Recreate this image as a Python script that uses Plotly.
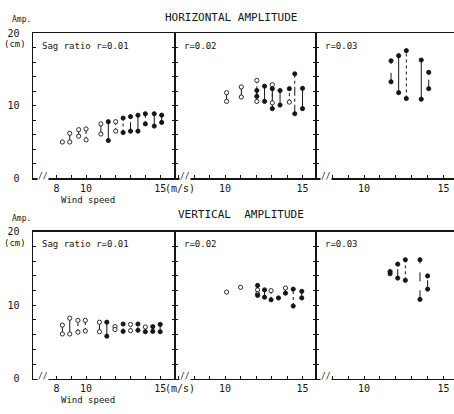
import plotly.graph_objects as go

W, H = 454, 414
FONT = "DejaVu Sans Mono"
INK = "#151515"

# ---------------- data (wind speed m/s, amplitude cm) ----------------
# Horizontal amplitude, sag ratio r=0.01
H1_WS = [8.4, 8.9, 9.5, 10.0, 11.0, 11.5, 12.0, 12.5, 13.0, 13.5, 14.0, 14.6, 15.1]
H1_HI = [5.0, 6.2, 6.7, 6.8, 7.5, 7.8, 7.8, 8.3, 8.5, 8.7, 8.9, 8.9, 8.7]
H1_LO = [5.0, 5.0, 5.8, 5.3, 6.1, 5.2, 6.5, 6.3, 6.5, 6.5, 7.5, 7.2, 7.7]
H1_FHI = [0, 0, 0, 0, 0, 1, 0, 1, 1, 1, 1, 1, 1]
H1_FLO = [0, 0, 0, 0, 0, 1, 0, 1, 1, 1, 1, 1, 1]
H1_LS = ["solid", "solid", "solid", "dot", "solid", "solid", "dot", "dot", "dash",
         "solid", "dot", "solid", "solid"]

# Horizontal amplitude, r=0.02
H2_WS = [10.1, 11.05, 12.05, 12.05, 12.55, 13.05, 13.05, 13.55, 14.15, 14.5, 15.0]
H2_HI = [11.8, 12.6, 13.5, 12.1, 12.7, 12.9, 12.35, 12.1, 12.35, 14.4, 12.4]
H2_LO = [10.6, 11.2, 10.6, 11.3, 10.6, 10.4, 9.6, 10.1, 10.5, 8.9, 9.6]
H2_FHI = [0, 0, 0, 1, 1, 0, 1, 1, 1, 1, 1]
H2_FLO = [0, 0, 0, 1, 1, 0, 1, 1, 0, 1, 1]
H2_LS = ["solid", "solid", "dot", "solid", "solid", "dot", "solid", "solid", "dot",
         "dashdot", "solid"]

# Horizontal amplitude, r=0.03
H3_WS = [11.7, 12.18, 12.66, 13.6, 14.07]
H3_HI = [16.2, 16.9, 17.6, 16.3, 14.6]
H3_LO = [13.3, 11.8, 11.0, 10.9, 12.35]
H3_FHI = [1, 1, 1, 1, 1]
H3_FLO = [1, 1, 1, 1, 1]
H3_LS = ["dash", "solid", "dot", "solid", "dash"]

# Vertical amplitude, r=0.01
V1_WS = [8.4, 8.9, 9.45, 9.95, 10.9, 11.4, 11.95, 12.5, 13.0, 13.5, 14.0, 14.5, 15.0]
V1_HI = [7.3, 8.25, 7.95, 7.95, 7.7, 7.7, 7.1, 7.45, 7.4, 7.45, 7.05, 7.1, 7.4]
V1_LO = [6.1, 6.1, 6.35, 6.5, 6.4, 5.8, 6.7, 6.45, 6.55, 6.6, 6.4, 6.45, 6.4]
V1_FHI = [0, 0, 0, 0, 0, 1, 0, 1, 0, 1, 0, 1, 1]
V1_FLO = [0, 0, 0, 0, 0, 1, 0, 1, 0, 1, 1, 1, 1]
V1_LS = ["solid", "solid", "dot", "dot", "solid", "solid", "solid", "dot", "dot",
         "dot", "dot", "solid", "solid"]

# Vertical amplitude, r=0.02
V2_WS = [10.1, 11.0, 12.1, 12.1, 12.55, 12.97, 13.45, 13.9, 14.4, 14.95]
V2_HI = [11.8, 12.45, 12.7, 12.1, 12.1, 12.0, 11.0, 12.35, 12.2, 11.9]
V2_LO = [11.8, 12.45, 11.35, 11.55, 11.1, 10.75, 11.0, 11.65, 9.9, 11.0]
V2_FHI = [0, 0, 1, 0, 1, 0, 1, 0, 1, 1]
V2_FLO = [0, 0, 1, 0, 1, 1, 1, 1, 1, 1]
V2_LS = ["solid", "solid", "dot", "solid", "solid", "dot", "solid", "solid", "dot", "solid"]

# Vertical amplitude, r=0.03
V3_WS = [11.64, 12.12, 12.6, 13.52, 14.0]
V3_HI = [14.6, 15.6, 16.2, 16.2, 14.0]
V3_LO = [14.3, 13.7, 13.4, 10.8, 12.2]
V3_FHI = [1, 1, 1, 1, 1]
V3_FLO = [1, 1, 1, 1, 1]
V3_LS = ["solid", "dash", "dot", "dash", "dash"]

PANELS = [
    (H1_WS, H1_HI, H1_LO, H1_FHI, H1_FLO, H1_LS),
    (H2_WS, H2_HI, H2_LO, H2_FHI, H2_FLO, H2_LS),
    (H3_WS, H3_HI, H3_LO, H3_FHI, H3_FLO, H3_LS),
    (V1_WS, V1_HI, V1_LO, V1_FHI, V1_FLO, V1_LS),
    (V2_WS, V2_HI, V2_LO, V2_FHI, V2_FLO, V2_LS),
    (V3_WS, V3_HI, V3_LO, V3_FHI, V3_FLO, V3_LS),
]

Y_TICKS = list(range(0, 21, 2))
Y_LABELS = ["0", "", "", "", "", "10", "", "", "", "", "20"]
X_TICKS = list(range(7, 16))
X_LABELS_1 = ["", "8", "", "10", "", "", "", "", "15"]
X_LABELS_2 = ["", "", "", "10", "", "", "", "", "15"]
PANEL_TEXT = ["Sag ratio r=0.01", "r=0.02", "r=0.03"]

# ---------------- layout geometry (pixels -> paper) ----------------
COL_PX = [(33, 175), (175, 316), (316, 454)]
ROW_PX = [(29, 178), (233, 384)]
X_RANGES = [[6.42, 16.0], [6.77, 15.87], [6.98, 15.66]]


def px(x, y):
    return x / W, 1 - y / H


fig = go.Figure()
layout = dict(
    width=W, height=H, margin=dict(l=0, r=0, t=0, b=0),
    paper_bgcolor="white", plot_bgcolor="white", showlegend=False,
    font=dict(family=FONT, size=9, color=INK),
)

for k, (ws, hi, lo, fhi, flo, ls) in enumerate(PANELS):
    row, col = divmod(k, 3)
    n = k + 1
    xa, ya = ("x" if n == 1 else f"x{n}"), ("y" if n == 1 else f"y{n}")
    x0, x1 = COL_PX[col]
    yt, yb = ROW_PX[row]
    layout["xaxis" if n == 1 else f"xaxis{n}"] = dict(
        domain=[x0 / W, x1 / W], range=X_RANGES[col], anchor=ya,
        showgrid=False, zeroline=False, showline=True, linecolor=INK, linewidth=1.7,
        mirror=True, ticks="inside", ticklen=3, tickcolor=INK, tickwidth=1,
        tickvals=X_TICKS, ticktext=X_LABELS_1 if col == 0 else X_LABELS_2,
        ticklabeloverflow="allow",
        tickfont=dict(family=FONT, size=10, color=INK), fixedrange=True,
    )
    layout["yaxis" if n == 1 else f"yaxis{n}"] = dict(
        domain=[1 - yb / H, 1 - yt / H], range=[0, 20], anchor=xa,
        showgrid=False, zeroline=False, showline=True, linecolor=INK, linewidth=1.4,
        mirror=("ticks" if col < 2 else False), ticks="inside", ticklen=3,
        tickcolor=INK, tickwidth=1,
        tickvals=Y_TICKS, ticktext=Y_LABELS, showticklabels=(col == 0),
        ticklabelstandoff=10, ticklabeloverflow="allow",
        tickfont=dict(family=FONT, size=10, color=INK), fixedrange=True,
    )
    # connecting lines, grouped by dash style
    for style in ["solid", "dot", "dash", "dashdot"]:
        lx, ly = [], []
        for w, h_, l_, s in zip(ws, hi, lo, ls):
            if s == style and h_ != l_:
                lx += [w, w, None]
                ly += [l_, h_, None]
        if lx:
            fig.add_trace(go.Scatter(x=lx, y=ly, mode="lines", xaxis=xa, yaxis=ya,
                                     line=dict(color=INK, width=1.0, dash=style),
                                     hoverinfo="skip"))
    # markers
    for filled in (0, 1):
        mx, my = [], []
        for w, h_, l_, a, b in zip(ws, hi, lo, fhi, flo):
            if a == filled:
                mx.append(w); my.append(h_)
            if b == filled and l_ != h_:
                mx.append(w); my.append(l_)
        if mx:
            fig.add_trace(go.Scatter(
                x=mx, y=my, mode="markers", xaxis=xa, yaxis=ya,
                marker=dict(symbol="circle", size=4.2,
                            color=INK if filled else "white",
                            line=dict(color=INK, width=0.9)),
                hoverinfo="skip"))

ann = []


def add_text(text, x, y, size=9, xanchor="center", bg=None):
    ax, ay = px(x, y)
    a = dict(text=text, x=ax, y=ay, xref="paper", yref="paper",
             xanchor=xanchor, yanchor="middle", showarrow=False,
             font=dict(family=FONT, size=size, color=INK))
    if bg:
        a["bgcolor"] = bg
        a["borderpad"] = 0
    ann.append(a)


add_text("HORIZONTAL AMPLITUDE", 231, 13, size=11)
add_text("VERTICAL  AMPLITUDE", 241, 215, size=11)
for row, (yt, yb) in enumerate(ROW_PX):
    add_text("Amp.", 21, yt - 14, size=8)
    add_text("(cm)", 15, yt + 11, size=9)
    add_text("Wind speed", 88, yb + 22, size=9)
    add_text("(m/s)", 180, yb + 10, size=10)
    for col, (x0, x1) in enumerate(COL_PX):
        add_text(PANEL_TEXT[col], x0 + 7, yt + 13, size=9, xanchor="left")
        add_text("//", x0 + 10, yb - 2, size=8, bg="white")

layout["annotations"] = ann
fig.update_layout(**layout)
fig.write_html("out.html",
               config={"displayModeBar": False, "staticPlot": True},
               post_script="document.body.style.margin='0';"
                           "document.body.style.padding='0';")
